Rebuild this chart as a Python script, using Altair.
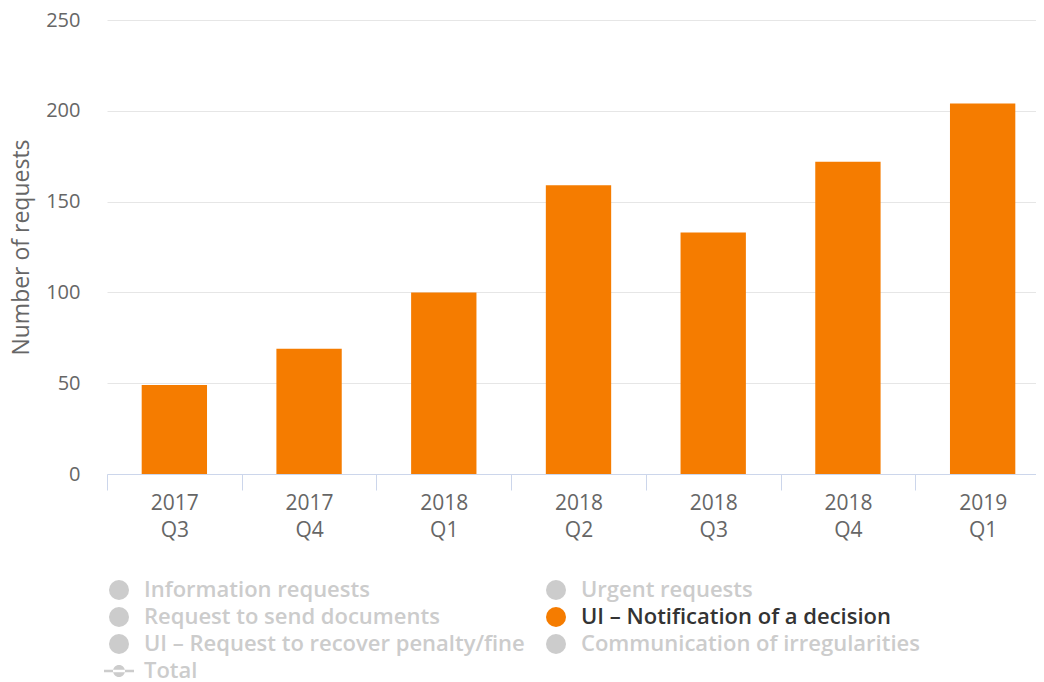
import altair as alt
import pandas as pd

quarters = ["2017 Q3", "2017 Q4", "2018 Q1", "2018 Q2", "2018 Q3", "2018 Q4", "2019 Q1"]
notification = [49, 69, 100, 159, 133, 172, 204]

# legend order (filled column by column: left column first, then right column)
series_names = [
    "Information requests",
    "Request to send documents",
    "UI – Request to recover penalty/fine",
    "Total",
    "Urgent requests",
    "UI – Notification of a decision",
    "Communication of irregularities",
]
series_colors = ["#cccccc", "#cccccc", "#cccccc", "#cccccc", "#cccccc", "#f57c00", "#cccccc"]
active = "UI – Notification of a decision"

df = pd.DataFrame({"quarter": quarters, "value": notification, "series": active})

FONT = "Open Sans"
total_path = ("M -1.5 -0.12 L 1.5 -0.12 L 1.5 0.12 L -1.5 0.12 Z "
              "M -0.6 0 A 0.6 0.6 0 1 0 0.6 0 A 0.6 0.6 0 1 0 -0.6 0 Z")

chart = alt.Chart(df).mark_bar(width=alt.RelativeBandSize(0.485)).encode(
    x=alt.X(
        "quarter:N",
        sort=quarters,
        scale=alt.Scale(paddingInner=0, paddingOuter=0, range=[0, 943]),
        axis=alt.Axis(
            title=None,
            labelAngle=0,
            labelExpr="split(datum.label, ' ')",
            labelLineHeight=27,
            labelFontSize=21,
            labelColor="#666666",
            labelFont=FONT,
            labelPadding=2,
            tickBand="extent",
            tickSize=16,
            tickColor="#ccd6eb",
            domainColor="#ccd6eb",
            grid=False,
        ),
    ),
    y=alt.Y(
        "value:Q",
        scale=alt.Scale(domain=[0, 250], nice=False),
        axis=alt.Axis(
            title="Number of requests",
            titleFont=FONT,
            titleFontSize=23,
            titleFontWeight="normal",
            titleColor="#666666",
            titlePadding=12,
            values=[0, 50, 100, 150, 200, 250],
            labelFontSize=20,
            labelFont=FONT,
            labelColor="#666666",
            labelPadding=27,
            ticks=False,
            domain=False,
            grid=True,
            gridColor="#e6e6e6",
        ),
    ),
    color=alt.Color(
        "series:N",
        scale=alt.Scale(domain=series_names, range=series_colors),
        legend=alt.Legend(
            title=None,
            orient="none",
            legendX=1,
            legendY=559,
            direction="vertical",
            columns=2,
            columnPadding=20,
            rowPadding=5,
            padding=0,
            symbolSize=400,
            symbolType=alt.ExprRef(expr=f"datum.label === 'Total' ? '{total_path}' : 'circle'"),
            symbolStrokeWidth=0,
            symbolOpacity=1,
            labelFont=FONT,
            labelFontSize=22,
            labelFontWeight=600,
            labelOffset=14,
            labelLimit=500,
            labelColor=alt.ExprRef(expr=f"datum.label === '{active}' ? '#333333' : '#cccccc'"),
        ),
    ),
).properties(
    width=929,
    height=454,
    autosize=alt.AutoSizeParams(type="none"),
    padding={"left": 99, "top": 12, "right": 0, "bottom": 208},
).configure_view(stroke=None)

chart.save("out.html", embed_options={"renderer": "svg", "actions": False})
